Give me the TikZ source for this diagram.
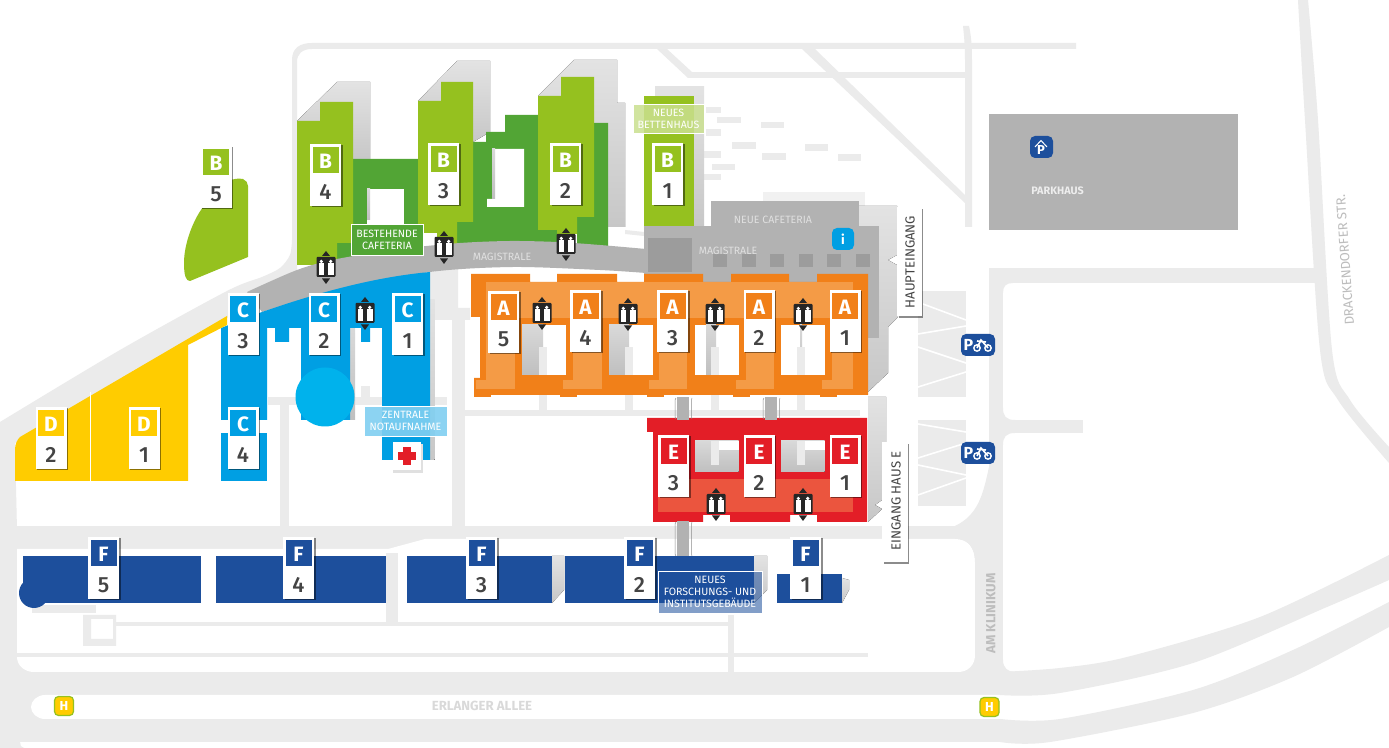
\documentclass[tikz,border=0pt]{standalone}
\usepackage{fontspec}
\setmainfont{Fira Sans}
\newfontfamily\firamed{Fira Sans Medium}
\definecolor{road}{HTML}{EBEBEB}
\definecolor{mag}{HTML}{B2B2B2}
\definecolor{magd}{HTML}{9C9C9C}
\definecolor{bl}{HTML}{95C11F}
\definecolor{bd}{HTML}{52A535}
\definecolor{cb}{HTML}{009FE3}
\definecolor{cc}{HTML}{00B2EC}
\definecolor{dy}{HTML}{FFCC00}
\definecolor{ao}{HTML}{F18019}
\definecolor{al}{HTML}{F49B46}
\definecolor{er}{HTML}{E31E27}
\definecolor{el}{HTML}{EB553E}
\definecolor{fb}{HTML}{1D4F9C}
\definecolor{txt}{HTML}{444444}
\tikzset{
  roadfill/.style={fill=road},
  shade1/.style={top color=white!89!black,bottom color=white!78!black,draw=none},
  shade2/.style={top color=white!85!black,bottom color=white!75!black,draw=none},
  labeltext/.style={text=white,align=center,inner sep=0pt,font=\fontsize{5.3}{6}\selectfont},
  magtext/.style={text=white!88!black,inner sep=0pt,font=\fontsize{5.3}{6}\selectfont},
  streettext/.style={text=white!74!black,inner sep=0pt,font=\bfseries\fontsize{6.6}{7}\selectfont},
  entrytext/.style={text=txt,inner sep=0pt,font=\fontsize{6.6}{7}\selectfont},
  signletter/.style={text=white,inner sep=0pt,font=\bfseries\fontsize{10.4}{11}\selectfont},
  signnumber/.style={text=txt,inner sep=0pt,font=\firamed\fontsize{11}{12}\selectfont},
  iconletter/.style={text=white,inner sep=0pt,font=\bfseries\fontsize{6.5}{7}\selectfont},
  labelbox/.style={draw=white,line width=0.4pt}
}
\newcommand{\signbox}[5]{%
  \fill[black,opacity=.45] (#1-14,#2+1.5) rectangle (#1+17,#2+63.5);
  \fill[white] (#1-15.5,#2) rectangle (#1+15.5,#2+62);
  \fill[#5] (#1-13,#2+3) rectangle (#1+13,#2+29);
  \node[signletter] (sign#3#4) at (#1,#2+17) {#3};
  \node[signnumber] (num#3#4) at (#1,#2+48) {#4};
}
\newcommand{\elev}[2]{%
  \fill[black!85] (#1,#2-16) -- (#1+4,#2-11) -- (#1-4,#2-11) -- cycle;
  \fill[black!85] (#1,#2+17) -- (#1+4,#2+11.5) -- (#1-4,#2+11.5) -- cycle;
  \fill[black!85,rounded corners=0.5pt] (#1-9.5,#2-10) rectangle (#1+9.5,#2+10);
  \fill[white] (#1-7.5,#2-3.5) rectangle (#1-2,#2+8);
  \fill[white] (#1-4.7,#2-5.5) circle[radius=1.8];
  \fill[white] (#1+2,#2-3.5) rectangle (#1+7.5,#2+8);
  \fill[white] (#1+4.7,#2-5.5) circle[radius=1.8];
}
\newcommand{\pbike}[3]{%
  \fill[fb,rounded corners=2.5pt] (#2-17,#3-11) rectangle (#2+17,#3+11);
  \node[iconletter,font=\bfseries\fontsize{8}{8}\selectfont] (#1) at (#2-9.5,#3) {P};
  \draw[white,line width=.7pt] (#2-1,#3+3) circle[radius=3.2] (#2+10,#3+3) circle[radius=3.2];
  \draw[white,line width=.8pt] (#2-1,#3+3) -- (#2+3,#3-5) -- (#2+10,#3+3) (#2-1,#3-4) -- (#2+8,#3-3);
}
\newcommand{\hstop}[3]{%
  \fill[dy,draw=bl,line width=.6pt,rounded corners=2pt] (#2-9.5,#3-9.5) rectangle (#2+9.5,#3+9.5);
  \node[iconletter] (#1) at (#2,#3) {H};
}
\begin{document}
\begin{tikzpicture}[x=0.5pt,y=-0.5pt]
\useasboundingbox (0,0) rectangle (1389,748);
\fill[white] (0,0) rectangle (1389,748);
% ---------- roads
\fill[roadfill] plot[smooth] coordinates {(0,422) (120,350) (227,291) (262,277) (280,268) (290,255) (292,240)} -- (292,60) .. controls (292,48) and (300,43) .. (312,43) -- (1076,43) -- (1076,49) -- (312,49) .. controls (302,49) and (297,54) .. (297,62) -- (297,275) -- (262,300) -- (227,318) -- (15,443) -- (17,530) -- (0,530) -- cycle;
\fill[roadfill] (0,526) rectangle (1003,742);
\fill[roadfill] (0,742) -- (20,742) .. controls (20,745) and (21,748) .. (24,748) -- (0,748) -- cycle;
% white cut-outs lower area
\fill[white] (17,549) -- (388,549) -- (425,539) -- (955,539) .. controls (968,539) and (975,548) .. (975,562) -- (975,655) .. controls (975,665) and (968,672) .. (958,672) -- (34,672) .. controls (24,672) and (17,665) .. (17,657) -- cycle;
\fill[white] (45,695) -- (1010,695) -- (1010,719) -- (45,719) .. controls (37,719) and (31,713) .. (31,707) .. controls (31,701) and (37,695) .. (45,695) -- cycle;
\fill[roadfill] (17,653) rectangle (868,657);
\fill[roadfill] (115,622) rectangle (728,626);
\fill[roadfill] (728,615) rectangle (734,672);
\fill[roadfill] (386,553) rectangle (398,622);
\fill[roadfill] (32,605) rectangle (96,613);
\fill[roadfill,even odd rule] (83,615) rectangle (116,646) (91,619) rectangle (113,639);
% white area under yellow, strips
\fill[white] (17,481) rectangle (280,526);
\fill[roadfill] (280,405) rectangle (289,526);
\fill[roadfill] (452,320) rectangle (465,526);
\fill[roadfill] (268,397) rectangle (447,405);
\fill[roadfill] (361,386) rectangle (370,405);
\fill[roadfill] (430,272) -- (458,268) -- (458,308) -- (470,308) -- (470,320) -- (430,320) -- cycle;
\fill[roadfill] (465,410) rectangle (860,416);
\foreach \xa in {539,625,711,797} \fill[roadfill] (\xa,395) rectangle (\xa+8,412);
% east side
\fill[roadfill] (989,268) rectangle (1325,283);
\fill[roadfill] (989,268) rectangle (1003,672);
\fill[roadfill] (1003,420) rectangle (1083,433);
\fill[roadfill] (1003,283) -- (1013,283) .. controls (1006,283) and (1003,286) .. (1003,293) -- cycle;
\fill[roadfill] (1003,420) -- (1003,408) .. controls (1003,416) and (1006,420) .. (1015,420) -- cycle;
\fill[roadfill] (1003,433) -- (1015,433) .. controls (1006,433) and (1003,437) .. (1003,445) -- cycle;
\fill[roadfill] (989,467) .. controls (983,495) and (978,515) .. (955,526) -- (955,539) -- (958,539) .. controls (968,539) and (975,548) .. (975,562) -- (989,562) -- cycle;
\fill[roadfill] (975,539) rectangle (989,672);
\fill[roadfill] plot[smooth] coordinates {(1298,0) (1305,120) (1320,350) (1338,400) (1389,463)} -- plot[smooth] coordinates {(1389,447) (1350,400) (1332,350) (1318,120) (1308,0)} -- cycle;
\fill[roadfill] plot[smooth] coordinates {(1000,672) (1060,668) (1127,657) (1260,617) (1389,555)} -- plot[smooth] coordinates {(1389,580) (1327,607) (1193,663) (1060,693) (1000,695)} -- cycle;
\fill[roadfill] plot[smooth] coordinates {(1000,719) (1060,719) (1193,690) (1293,650) (1389,602)} -- plot[smooth] coordinates {(1389,627) (1293,677) (1193,713) (1050,742) (1000,742)} -- cycle;
\fill[roadfill] (1003,660) .. controls (1003,668) and (1008,672) .. (1015,672) -- (1003,672) -- cycle;
% north side roads
\fill[roadfill] (688,72) rectangle (965,78);
\fill[roadfill] (657,49) -- (667,49) -- (692,72) -- (688,78) -- cycle;
\fill[roadfill] (802,49) -- (815,49) -- (965,195) -- (965,203) -- cycle;
\fill[roadfill] (965,227) -- (965,60) .. controls (965,45) and (964,35) .. (963,26) -- (969,26) .. controls (971,35) and (972,45) .. (972,60) -- (972,227) -- cycle;
% small parking strips
\foreach \xa/\ya/\xb/\yb in {706/107/721/113,717/117/741/123,761/122/784/128,706/129/721/136,732/142/756/149,805/144/828/151,697/151/721/158,762/153/786/160,838/154/861/161,712/164/735/170,697/174/721/180}
  \fill[roadfill] (\xa,\ya) rectangle (\xb,\yb);
% bike parking
\fill[roadfill] (918,291) rectangle (966,397);
\fill[roadfill] (918,420) rectangle (966,506);
\draw[white,line width=.8pt] (923,304) -- (966,320) (918,334) -- (966,326) (918,347) -- (966,363) (918,387) -- (966,372);
\draw[white,line width=.8pt] (918,424) -- (966,432) (918,458) -- (966,443) (918,465) -- (966,475) (918,495) -- (966,478);
% ---------- building shadows
\fill[shade1] (297,121) -- (337,82) -- (370,82) -- (370,160) -- (320,160) -- cycle;
\fill[shade1] (418,101) -- (457,61) -- (490,61) -- (490,132) -- (473,142) -- (418,142) -- cycle;
\fill[shade1] (538,96) -- (574,60) -- (617,60) -- (617,103) -- (625,103) -- (625,227) -- (608,227) -- (538,120) -- cycle;
\fill[shade1] (655,87) rectangle (704,226);
\fill[road!70!white] (763,192) rectangle (865,206);
\fill[shade1] (859,206) -- (897,206) -- (897,255) -- (888,260) -- (897,265) -- (898,317) -- (888,327) -- (888,373) -- (868,392) -- (860,392) -- cycle;
\fill[shade1] (868,397) -- (886,397) -- (886,442) -- (882,442) -- (882,500) -- (875,505) -- (882,509) -- (868,522) -- cycle;
\fill[shade1] (430,300) rectangle (434.5,460);
\fill[shade2] (350,328) rectangle (355,420);
\fill[shade1] (754,556) -- (767,556) -- (767,590) -- (754,603) -- cycle;
\fill[shade1] (842,578) -- (849,580) -- (849,590) -- (842,603) -- cycle;
\fill[shade1] (552,556) -- (564,556) -- (564,590) -- (552,603) -- cycle;
\fill[road] (625,230) -- (644,232) -- (644,236) -- (625,234) -- cycle;
% ---------- building B
\fill[bd] (353,159) -- (418,159) -- (418,248) -- (337,270) -- (337,243) -- (353,243) -- cycle;
\fill[bd] (457,222) -- (473,222) -- (473,142) -- (486,142) -- (486,132) -- (505,132) -- (505,115) -- (538,115) -- (538,230) -- (557,230) -- (557,250) -- (457,250) -- cycle;
\fill[bd] (577,217) -- (594,217) -- (594,123) -- (608,123) -- (608,250) -- (577,250) -- cycle;
\fill[white] (367,189) rectangle (404,224);
\fill[shade2] (367,189) rectangle (370,220);
\fill[white] (492,149) rectangle (524,207) (487,199) rectangle (492,207);
\fill[shade2] (492,149) rectangle (495,199);
\fill[bl] (297,121) -- (320,121) -- (320,102) -- (353,102) -- (353,243) -- (337,243) -- (337,265) -- (297,265) -- cycle;
\fill[bl] (418,101) -- (441,101) -- (441,82) -- (473,82) -- (473,222) -- (457,222) -- (457,250) -- (437,250) -- (437,233) -- (418,233) -- cycle;
\fill[bl] (538,96) -- (561,96) -- (561,77) -- (594,77) -- (594,217) -- (577,217) -- (577,234) -- (557,234) -- (557,230) -- (538,230) -- cycle;
\fill[bl] (644,96) rectangle (694,226);
\fill[bl] (243,179) .. controls (246,180) and (248,183) .. (248,186) -- (248,257) -- (190,281) .. controls (186,281) and (184,276) .. (184,263) .. controls (184,245) and (192,222) .. (203,207) -- (228,181) .. controls (233,179) and (238,178) .. (243,179) -- cycle;
% ---------- Magistrale and main hall
\fill[mag] (711,201) rectangle (859,230);
\fill[mag] (644,226) rectangle (879,338);
\fill[mag] plot[smooth] coordinates {(247,292) (297,270) (337,259) (400,249) (460,243) (510,241) (557,242) (600,245) (646,249)} -- plot[smooth] coordinates {(646,273) (600,270) (513,267) (430,272) (340,290) (262,312)} -- cycle;
\fill[magd] (648,238) rectangle (692,272);
\foreach \xa in {713,742,770,799,827,856} \fill[magd] (\xa,254) rectangle (\xa+14,267);
% ---------- building C
\fill[cb] (221,328) -- (262,312) .. controls (320,292) and (375,277) .. (430,272) -- (430,460) -- (382,460) -- (382,328) -- (370,328) -- (370,342) -- (361,342) -- (361,328) -- (350,328) -- (350,420) -- (301,420) -- (301,328) -- (289,328) -- (289,342) -- (275,342) -- (275,328) -- (267,328) -- (267,420) -- (221,420) -- cycle;
\fill[cb] (221,433) rectangle (267,481);
\fill[cc] (325,397) circle[radius=29.5];
% ---------- building D
\fill[dy] (15,481) -- (15,450) .. controls (15,444) and (17,440) .. (20,437) -- (227,316) -- (227,325) -- (188,345) -- (188,481) -- cycle;
\draw[white!100!dy,line width=.4pt] (90,392) -- (90,481);
% ---------- building A
\fill[ao] (471,274) -- (530,274) -- (530,282) -- (557,282) -- (557,274) -- (617,274) -- (617,282) -- (644,282) -- (644,274) -- (703,274) -- (703,282) -- (731,282) -- (731,274) -- (789,274) -- (789,282) -- (817,282) -- (817,274) -- (868,274) -- (868,395) -- (474,395) -- (474,378) -- (480,378) -- (480,317) -- (471,317) -- cycle;
\foreach \xa in {474,560,647,733,820} \fill[ao] (\xa,395) rectangle (\xa+17,397);
\fill[al] (486,282) rectangle (853,318);
\foreach \xa/\xb in {486/515,573/602,659/687,746/774,832/853} \fill[al] (\xa,318) rectangle (\xb,389);
\foreach \xa/\xb in {476/515,563/602,649/687,736/774,822/853} \fill[al] (\xa,380) rectangle (\xb,389);
\foreach \xa in {522,609,695,781} \fill[white] (\xa,325) rectangle (\xa+43.5,375);
\fill[shade2] (522,325) rectangle (543,375);
\fill[shade2] (609,325) rectangle (629,375);
\fill[shade2] (706,325) rectangle (716,375);
\fill[shade2] (800,325) rectangle (802,375);
\foreach \xa in {539,625,711,797} \fill[road] (\xa,347) rectangle (\xa+8,375);
% ---------- building E
\fill[er] (647,418) -- (867,418) -- (867,522) -- (817,522) -- (817,515) -- (790,515) -- (790,522) -- (730,522) -- (730,515) -- (703,515) -- (703,522) -- (653,522) -- (653,432) -- (647,432) -- cycle;
\fill[el] (658,479) rectangle (853,512);
\foreach \xa in {695,781} {
  \fill[shade2] (\xa,441) rectangle (\xa+43.5,472);
}
\fill[white] (719,441) rectangle (738.5,450);
\fill[road] (711,441) rectangle (719,465);
\fill[white] (805,441) rectangle (824.5,450);
\fill[road] (797,441) rectangle (805,465);
% ---------- bridges
\foreach \xa/\ya/\yb in {677/397/420,765/397/420,677/521/557} {
  \fill[mag] (\xa,\ya) rectangle (\xa+12,\yb);
  \draw[black!45,line width=.25pt] (\xa-1,\ya+1) -- (\xa-2,\ya+3) -- (\xa-2,\yb-3) -- (\xa-1,\yb-1);
  \draw[black!45,line width=.25pt] (\xa+15,\ya+1) -- (\xa+14.5,\ya+3) -- (\xa+14.5,\yb-3) -- (\xa+15,\yb-1);
}
% ---------- building F
\fill[fb] (23,556) rectangle (201,603);
\fill[fb] (34,593) circle[radius=15];
\fill[fb] (216,556) rectangle (386,603);
\fill[fb] (407,556) rectangle (552,603);
\fill[fb] (565,556) rectangle (754,603);
\fill[fb] (777,574) rectangle (842,603);
% ---------- parkhaus
\fill[mag] (989,114) rectangle (1238,230);
\fill[fb,rounded corners=2.5pt] (1030,136) rectangle (1053,158);
\draw[white,line width=.5pt] (1035,147) -- (1041,140.5) -- (1047,147);
\node[iconletter] (picon) at (1041,150) {P};
\node[text=white!93!black,inner sep=0pt,anchor=west,font=\bfseries\fontsize{5.4}{6}\selectfont] (parkhaus) at (1031,191) {PARKHAUS};
% ---------- area labels
\node[magtext] (mag1) at (502,257) {MAGISTRALE};
\node[magtext] (mag2) at (728,251) {MAGISTRALE};
\node[magtext] (cafe) at (773,220) {NEUE CAFETERIA};
\fill[cb,rounded corners=2.5pt] (832,228) rectangle (854,250);
\node[iconletter] (info) at (843,239) {i};
\node[labelbox,fill=bd,text=white,align=center,inner sep=0pt,minimum width=36pt,minimum height=15.5pt,font=\fontsize{5.3}{6}\selectfont] (bestehend) at (387,239.5) {BESTEHENDE\\CAFETERIA};
\node[labelbox,fill=bl!50!white,fill opacity=.85,text opacity=1,text=white,align=center,inner sep=0pt,minimum width=35.5pt,minimum height=14.5pt,font=\fontsize{5.3}{6}\selectfont] (bettenhaus) at (668.5,118.5) {NEUES\\BETTENHAUS};
\node[labelbox,fill=cb!50!white,fill opacity=.9,text opacity=1,text=white,align=center,inner sep=0pt,minimum width=41.5pt,minimum height=15pt,font=\fontsize{5.3}{6}\selectfont] (notaufnahme) at (405.5,421) {ZENTRALE\\NOTAUFNAHME};
\node[labelbox,fill=fb,fill opacity=.55,text opacity=1,text=white,align=center,inner sep=0pt,minimum width=52pt,minimum height=21pt,font=\fontsize{5.3}{6}\selectfont] (forschung) at (710,592) {NEUES\\FORSCHUNGS- UND\\INSTITUTSGEBÄUDE};
% ---------- signs
\signbox{216}{146}{B}{5}{bl}
\signbox{325.5}{144}{B}{4}{bl}
\signbox{443.5}{143}{B}{3}{bl}
\signbox{565.5}{143}{B}{2}{bl}
\signbox{667.5}{143}{B}{1}{bl}
\signbox{243}{293}{C}{3}{cb}
\signbox{324}{293}{C}{2}{cb}
\signbox{407.5}{293}{C}{1}{cb}
\signbox{243}{407}{C}{4}{cb}
\signbox{51}{407}{D}{2}{dy}
\signbox{144}{407}{D}{1}{dy}
\signbox{503.5}{291}{A}{5}{ao}
\signbox{585.5}{290}{A}{4}{ao}
\signbox{672.5}{290}{A}{3}{ao}
\signbox{759}{290}{A}{2}{ao}
\signbox{845}{290}{A}{1}{ao}
\signbox{673.5}{435}{E}{3}{er}
\signbox{759}{435}{E}{2}{er}
\signbox{845}{435}{E}{1}{er}
\signbox{103.5}{537}{F}{5}{fb}
\signbox{298.5}{537}{F}{4}{fb}
\signbox{481.5}{537}{F}{3}{fb}
\signbox{639.5}{537}{F}{2}{fb}
\signbox{805.5}{537}{F}{1}{fb}
% ---------- emergency sign
\fill[black!12] (393,444) rectangle (423,473);
\fill[white] (393,442) rectangle (421,470);
\fill[er] (403,447) rectangle (411,465);
\fill[er] (398,452) rectangle (416,460);
% ---------- lifts
\elev{326}{267}
\elev{444}{247}
\elev{566}{244}
\elev{365}{313}
\elev{542}{313}
\elev{628}{314}
\elev{715}{314}
\elev{803}{314}
\elev{716}{504}
\elev{803}{504}
% ---------- entrance signs
\fill[black,opacity=.45] (899,209) rectangle (923,318);
\fill[white] (897,207) rectangle (921.5,316.5);
\node[entrytext,rotate=90] (haupt) at (910,262) {HAUPTEINGANG};
\fill[black,opacity=.45] (884,444) rectangle (909,564);
\fill[white] (882,442) rectangle (907.5,562.5);
\node[entrytext,rotate=90] (hause) at (896,501) {EINGANG HAUS E};
% ---------- icons
\pbike{bike1}{978}{345}
\pbike{bike2}{978}{453}
\hstop{h1}{64}{706}
\hstop{h2}{989.5}{707}
% ---------- street names
\node[streettext,text=white!85!black] (erl) at (482,706) {ERLANGER ALLEE};
\node[streettext,rotate=90] (klin) at (991,613.5) {AM KLINIKUM};
\node[streettext,font=\fontsize{6.6}{7}\selectfont,rotate=94] (drack) at (1345,260) {DRACKENDORFER STR.};
\end{tikzpicture}
\end{document}
